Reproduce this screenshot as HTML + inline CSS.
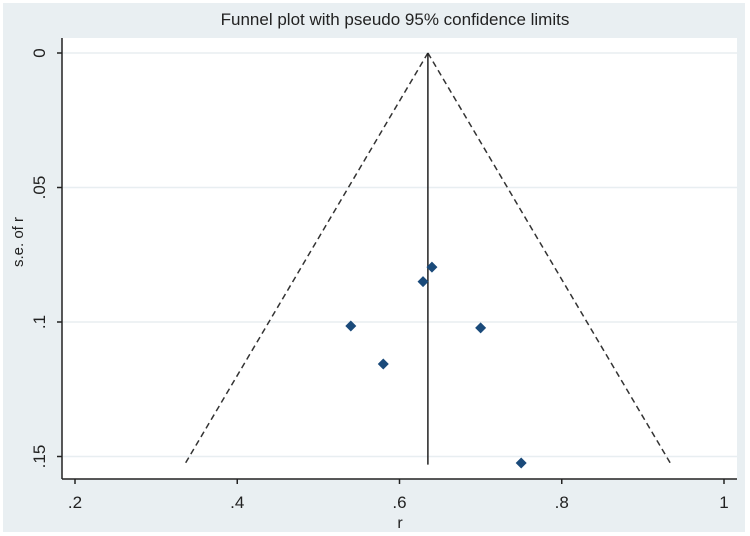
<!DOCTYPE html>
<html><head><meta charset="utf-8"><style>
body{margin:0;background:#fff;}
svg{display:block;font-family:"Liberation Sans",sans-serif;}
</style></head><body>
<svg id="chart" width="750" height="536">
<rect x="3" y="3" width="742" height="529" fill="#e9eff2"/>
<rect x="62" y="38" width="675" height="441" fill="#fff"/>
<text x="395" y="25" font-size="17" text-anchor="middle" fill="#222">Funnel plot with pseudo 95% confidence limits</text>
<g id="grid"></g><g id="axes"></g><g id="marks"></g>
<text x="400" y="528" font-size="16" text-anchor="middle" fill="#222">r</text>
<text transform="translate(23,242) rotate(-90)" font-size="15" text-anchor="middle" fill="#222">s.e. of r</text>
</svg>
<script>
const rValues=[0.640,0.629,0.540,0.700,0.580,0.750];
const seValues=[0.0796,0.0850,0.1015,0.1022,0.1156,0.1524];
const xTicks=[0.2,0.4,0.6,0.8,1];
const xTickLabels=[".2",".4",".6",".8","1"];
const yTicks=[0,0.05,0.1,0.15];
const yTickLabels=["0",".05",".1",".15"];
const pooled=0.635;
const maxSe=0.153;
const NS="http://www.w3.org/2000/svg";
const X=v=>75+(v-0.2)*811.25;
const Y=v=>53+v*2690;
function mk(t,a,p){const e=document.createElementNS(NS,t);for(const k in a)e.setAttribute(k,a[k]);document.getElementById(p).appendChild(e);return e;}
yTicks.forEach((v,i)=>{
 const g=mk('line',{x1:63,x2:737,y1:Y(v),y2:Y(v),stroke:'#e8eef1','stroke-width':1.5},'grid');
 
 
 const t=mk('line',{x1:57,x2:62,y1:Y(v),y2:Y(v),stroke:'#222','stroke-width':1.5},'axes');
 
 
 const l=mk('text',{transform:`translate(45,${Y(v)}) rotate(-90)`,'font-size':17,'text-anchor':'middle',fill:'#222'},'axes');
 l.textContent=yTickLabels[i];
 
 
});
xTicks.forEach((v,i)=>{
 const t=mk('line',{x1:X(v),x2:X(v),y1:479,y2:484,stroke:'#222','stroke-width':1.5},'axes');
 
 
 const l=mk('text',{x:X(v),y:508,'font-size':17,'text-anchor':'middle',fill:'#222'},'axes');
 l.textContent=xTickLabels[i];
 
 
});
const ya=mk('line',{x1:62,x2:62,y1:38,y2:479,stroke:'#222','stroke-width':1.5},'axes');


const xa=mk('line',{x1:62,x2:737,y1:479,y2:479,stroke:'#222','stroke-width':1.5},'axes');


const lo=mk('line',{x1:X(pooled),y1:Y(0),x2:X(pooled-1.96*maxSe),y2:Y(maxSe),stroke:'#333','stroke-width':1.5,'stroke-dasharray':'6,4'},'marks');


const hi=mk('line',{x1:X(pooled),y1:Y(0),x2:X(pooled+1.96*maxSe),y2:Y(maxSe),stroke:'#333','stroke-width':1.5,'stroke-dasharray':'6,4'},'marks');


const pl=mk('line',{x1:X(pooled),y1:Y(0),x2:X(pooled),y2:Y(maxSe),stroke:'#222','stroke-width':1.5},'marks');


rValues.forEach((r,i)=>{
 const x=X(r),y=Y(seValues[i]);
 const p=mk('polygon',{points:`${x},${y-5.5} ${x+5.5},${y} ${x},${y+5.5} ${x-5.5},${y}`,fill:'#1a4a7a'},'marks');
 
 
});
</script>
</body></html>
